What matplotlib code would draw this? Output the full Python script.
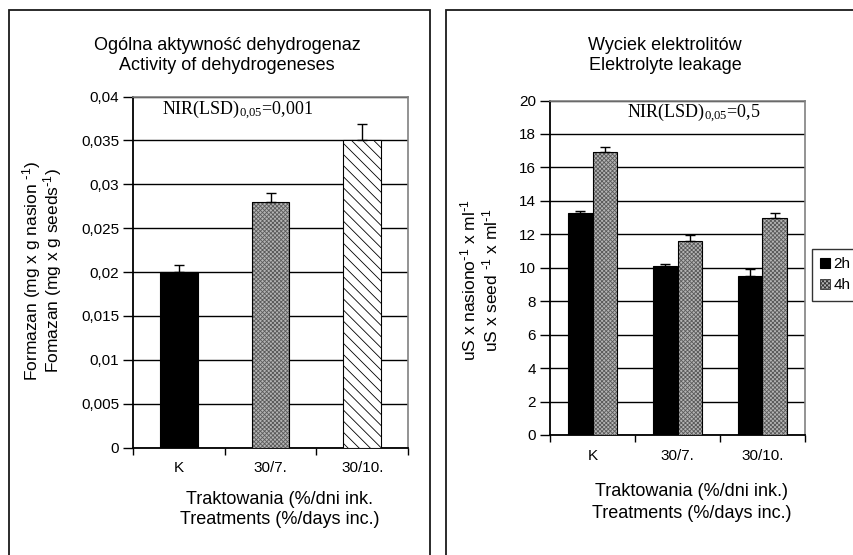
import matplotlib
matplotlib.use("Agg")
import matplotlib.pyplot as plt
from matplotlib.patches import Rectangle
import numpy as np

plt.rcParams['font.family'] = ['Liberation Sans', 'DejaVu Sans']
plt.rcParams['mathtext.default'] = 'regular'
plt.rcParams['hatch.linewidth'] = 0.6

# ---- data ----
categories = ["K", "30/7.", "30/10."]
dehyd_values = [0.020, 0.028, 0.035]
dehyd_err = [0.0008, 0.001, 0.0019]
dehyd_yticks = [0, 0.005, 0.01, 0.015, 0.02, 0.025, 0.03, 0.035, 0.04]
dehyd_yticklabels = ["0", "0,005", "0,01", "0,015", "0,02", "0,025", "0,03", "0,035", "0,04"]

leak_2h = [13.3, 10.1, 9.5]
leak_2h_err = [0.1, 0.15, 0.4]
leak_4h = [16.9, 11.6, 12.95]
leak_4h_err = [0.3, 0.35, 0.35]
leak_yticks = [0, 2, 4, 6, 8, 10, 12, 14, 16, 18, 20]
series_names = ["2h", "4h"]

W, H = 854, 555
fig = plt.figure(figsize=(W / 100, H / 100), dpi=100)

def fx(px):
    return px / W

def fy(py):
    return 1 - py / H

# outer frames
for (x0, x1) in [(9, 430), (446.5, 900)]:
    fig.patches.append(Rectangle((fx(x0), fy(600)), fx(x1) - fx(x0), fy(10) - fy(600),
                                 transform=fig.transFigure, fill=False,
                                 edgecolor='#1a1a1a', linewidth=1.3, zorder=0))

CHECK_FACE = '#b4b4b4'
CHECK_HATCH = '#5a5a5a'

def checker_bar(ax, xs, vals, width):
    # filled gray with fine hatch, then a black outline on top
    ax.bar(xs, vals, width=width, color=CHECK_FACE, edgecolor=CHECK_HATCH,
           linewidth=0, hatch='xxxxxxxx', zorder=3)
    return ax.bar(xs, vals, width=width, fill=False, edgecolor='black',
                  linewidth=0.8, zorder=3.5)

def style_axes(ax, ymax):
    ax.set_xlim(0, 3)
    ax.set_ylim(0, ymax)
    for s in ['top', 'right']:
        ax.spines[s].set_color('#808080')
        ax.spines[s].set_linewidth(1.2)
    for s in ['left', 'bottom']:
        ax.spines[s].set_color('black')
        ax.spines[s].set_linewidth(1.3)
    ax.set_xticks([0, 1, 2, 3])
    ax.set_xticklabels([])
    ax.set_xticks([0.5, 1.5, 2.5], minor=True)
    ax.set_xticklabels(categories, minor=True)
    ax.tick_params(axis='x', which='major', direction='out', length=5, width=1, color='black')
    ax.tick_params(axis='x', which='minor', length=0, pad=10, labelsize=11)
    ax.tick_params(axis='y', direction='out', length=7, width=1, labelsize=11, pad=3)
    ax.yaxis.grid(True, color='black', linewidth=1.0)
    ax.set_axisbelow(True)

# ---- left chart ----
ax1 = fig.add_axes([fx(133), fy(447.5), fx(408) - fx(133), fy(96.5) - fy(447.5)])
x = np.arange(3) + 0.5
ax1.bar(x[0], dehyd_values[0], width=0.41, color='black', edgecolor='black',
        linewidth=0.8, zorder=3)
checker_bar(ax1, x[1], dehyd_values[1], 0.41)
ax1.bar(x[2], dehyd_values[2], width=0.41, color='white', edgecolor='black',
        linewidth=0.8, hatch='\\\\\\', zorder=3)
ax1.errorbar(x, dehyd_values, yerr=[[0, 0, 0], dehyd_err], fmt='none', ecolor='black',
             elinewidth=1, capsize=3.5, capthick=1, zorder=4)
style_axes(ax1, 0.04)
ax1.set_yticks(dehyd_yticks)
ax1.set_yticklabels(dehyd_yticklabels)
fig.text(fx(162), fy(110), r'NIR(LSD)$_{0{,}05}$=0,001',
         fontfamily='Liberation Serif', fontsize=13, va='center', ha='left')

fig.text(fx(227), fy(45), 'Ogólna aktywność dehydrogenaz', ha='center', va='center', fontsize=13)
fig.text(fx(227), fy(65), 'Activity of dehydrogeneses', ha='center', va='center', fontsize=13)
fig.text(fx(32), fy(271), r'Formazan (mg x g nasion $^{\text{-}1}$)', rotation=90,
         ha='center', va='center', fontsize=12.5)
fig.text(fx(53), fy(271), r'Fomazan (mg x g seeds$^{\text{-}1}$)', rotation=90,
         ha='center', va='center', fontsize=12.5)
fig.text(fx(280), fy(500), 'Traktowania (%/dni ink.', ha='center', va='center', fontsize=13)
fig.text(fx(280), fy(519), 'Treatments (%/days inc.)', ha='center', va='center', fontsize=13)

# ---- right chart ----
ax2 = fig.add_axes([fx(550), fy(435), fx(805) - fx(550), fy(100.5) - fy(435)])
bw = 0.29
b1 = ax2.bar(x - bw / 2, leak_2h, width=bw, color='black', edgecolor='black',
             linewidth=0.8, zorder=3, label=series_names[0])
checker_bar(ax2, x + bw / 2, leak_4h, bw)
ax2.errorbar(x - bw / 2, leak_2h, yerr=[[0, 0, 0], leak_2h_err], fmt='none', ecolor='black',
             elinewidth=1, capsize=3.5, capthick=1, zorder=4)
ax2.errorbar(x + bw / 2, leak_4h, yerr=[[0, 0, 0], leak_4h_err], fmt='none', ecolor='black',
             elinewidth=1, capsize=3.5, capthick=1, zorder=4)
style_axes(ax2, 20)
ax2.set_yticks(leak_yticks)
ax2.set_yticklabels([str(v) for v in leak_yticks])
fig.text(fx(627), fy(113), r'NIR(LSD)$_{0{,}05}$=0,5',
         fontfamily='Liberation Serif', fontsize=13, va='center', ha='left')

fig.text(fx(665), fy(45), 'Wyciek elektrolitów', ha='center', va='center', fontsize=13)
fig.text(fx(665), fy(65), 'Elektrolyte leakage', ha='center', va='center', fontsize=13)
fig.text(fx(468), fy(280), r'uS x nasiono$^{\text{-}1}$ x ml$^{\text{-}1}$', rotation=90,
         ha='center', va='center', fontsize=12.5)
fig.text(fx(490), fy(280), r'uS x seed $^{\text{-}1}$ x ml$^{\text{-}1}$', rotation=90,
         ha='center', va='center', fontsize=12.5)
fig.text(fx(692), fy(492), 'Traktowania (%/dni ink.)', ha='center', va='center', fontsize=13)
fig.text(fx(692), fy(513), 'Treatments (%/days inc.)', ha='center', va='center', fontsize=13)

h4 = Rectangle((0, 0), 1, 1, facecolor=CHECK_FACE, edgecolor='#333333', linewidth=0.6,
               hatch='xxxxxxxx')
leg = ax2.legend(handles=[b1, h4], labels=series_names, loc='upper left',
                 bbox_to_anchor=(fx(812), fy(249)), bbox_transform=fig.transFigure,
                 frameon=True, fancybox=False, fontsize=11, handlelength=0.65,
                 handleheight=0.65, handletextpad=0.2, borderpad=0.55, labelspacing=0.45,
                 borderaxespad=0)
leg.get_frame().set_edgecolor('black')
leg.get_frame().set_linewidth(1.0)

fig.savefig('out.png', dpi=100)
